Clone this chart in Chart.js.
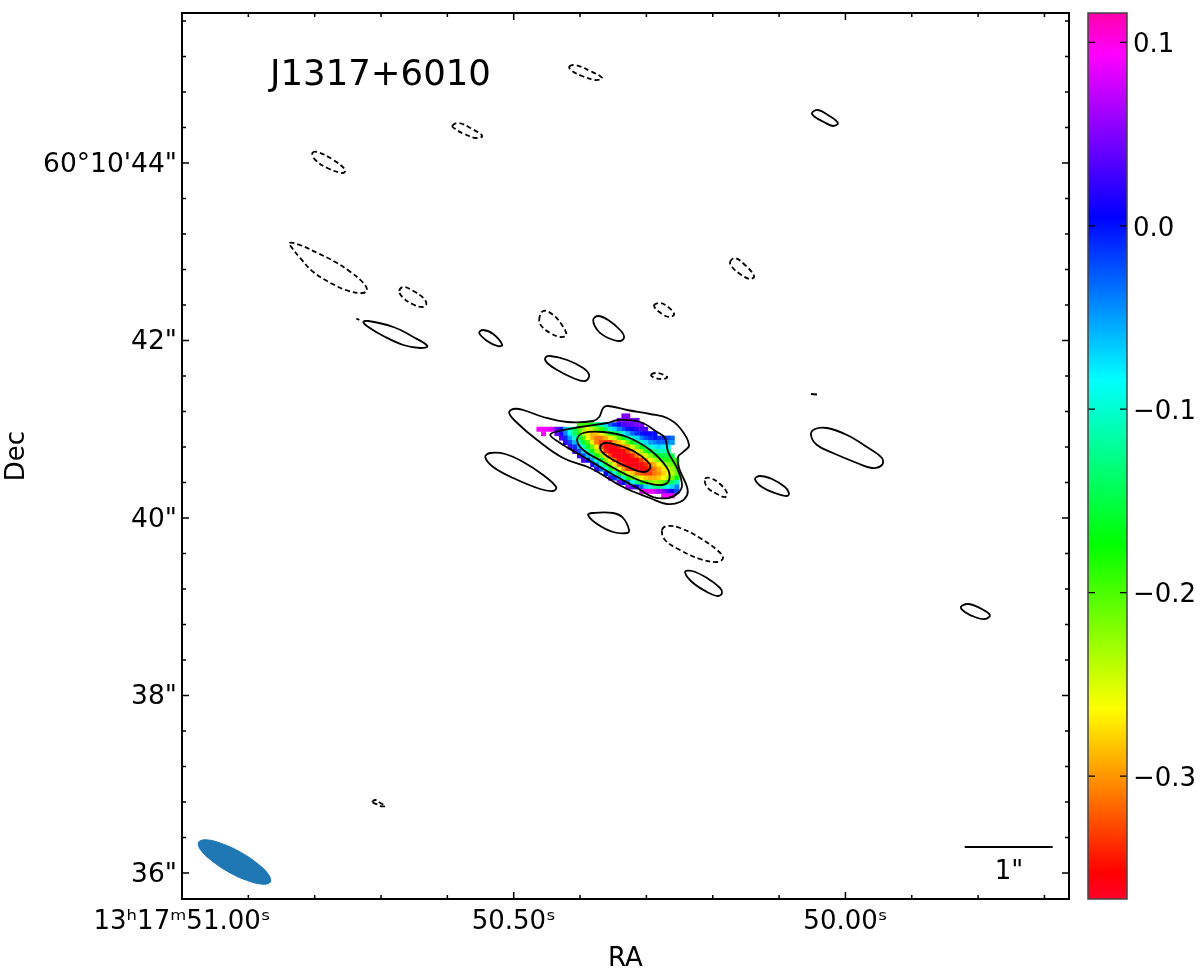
<!DOCTYPE html>
<html>
<head>
<meta charset="utf-8">
<title>J1317+6010</title>
<script src="https://cdn.jsdelivr.net/npm/chart.js@4/dist/chart.umd.min.js"></script>
<style>
  html, body { margin: 0; padding: 0; background: #fff; }
  #wrap { position: relative; width: 1200px; height: 973px; }
  canvas { position: absolute; top: 0; display: block; }
  #skyChart { left: 0; }
  #barChart { left: 1069px; }
</style>
</head>
<body>
<div id="wrap">
  <canvas id="skyChart" width="1200" height="973"></canvas>
  <canvas id="barChart" width="131" height="973"></canvas>
</div>
<script>
// axes, in seconds of RA and arcseconds of Dec
const raMin = 49.663, raMax = 51.0;
const decMin = 35.707, decMax = 45.69;
const raTicks = [51.0, 50.9, 50.8, 50.7, 50.6, 50.5, 50.4, 50.3, 50.2, 50.1, 50.0, 49.9, 49.8, 49.7];
const raTickLabels = ["13ʰ17ᵐ51.00ˢ", "", "", "", "", "50.50ˢ", "", "", "", "", "50.00ˢ", "", "", ""];
const decTicks = [36, 36.4, 36.8, 37.2, 37.6, 38, 38.4, 38.8, 39.2, 39.6, 40, 40.4, 40.8, 41.2, 41.6, 42, 42.4, 42.8, 43.2, 43.6, 44, 44.4, 44.8, 45.2, 45.6];
const decTickLabels = ['36"', "", "", "", "", '38"', "", "", "", "", '40"', "", "", "", "", '42"', "", "", "", "", "60°10'44\"", "", "", "", ""];

// colour bar
const barMin = -0.367, barMax = 0.116;
const barTicks = [-0.3, -0.2, -0.1, 0.0, 0.1];
const barTickLabels = ["\u22120.3", "\u22120.2", "\u22120.1", "0.0", "0.1"];
const cmapStops = [0, 0.03, 0.215, 0.4, 0.586, 0.77, 0.954, 1];
const cmapColors = [[255, 0, 41], [255, 0, 0], [255, 255, 0], [0, 255, 0], [0, 255, 255], [0, 0, 255], [255, 0, 255], [255, 0, 170]];

// spectral index map: cell centres and one row of values per Dec
const heatRa = [50.462, 50.455, 50.448, 50.442, 50.435, 50.428, 50.422, 50.415, 50.408, 50.401, 50.395, 50.388, 50.381, 50.375, 50.368, 50.361, 50.354, 50.348, 50.341, 50.334, 50.328, 50.321, 50.314, 50.307, 50.301, 50.294, 50.287, 50.281, 50.274, 50.267, 50.261, 50.254];
const heatDec = [41.15, 41.10, 41.05, 41.00, 40.95, 40.90, 40.85, 40.80, 40.75, 40.70, 40.65, 40.60, 40.55, 40.50, 40.45, 40.40, 40.35, 40.30, 40.25];
const heatStart = [19, 18, 9, 0, 1, 5, 6, 7, 8, 9, 10, 12, 13, 15, 16, 18, 20, 23, 28];
const heatValues = [
  [.05, .05],
  [.05, .05, .05, .05, .04],
  [-.2, -.2, -.19, -.18, -.13, -.1, -.07, -.03, -.01, .01, .03, .04, .04, .05, .05],
  [.09, .09, .09, .08, .04, 0, -.06, -.1, -.15, -.2, -.23, -.25, -.24, -.21, -.19, -.14, -.1, -.07, -.04, -.02, 0, .01, .02, .03, .03],
  [.09, null, null, .04, .01, -.04, -.09, -.14, -.19, -.24, -.27, -.29, -.28, -.26, -.23, -.19, -.15, -.12, -.09, -.06, -.03, -.01, 0, .01, .01, 0],
  [.03, -.01, -.05, -.1, -.15, -.2, -.26, -.29, -.31, -.31, -.29, -.27, -.24, -.2, -.17, -.13, -.1, -.07, -.04, -.02, -.01, 0, -.01, -.01, -.02, -.03],
  [.02, -.02, -.06, -.11, -.16, -.2, -.27, -.31, -.33, -.34, -.34, -.3, -.28, -.25, -.21, -.17, -.13, -.1, -.07, -.05, -.04, -.03, -.03, -.04, -.05],
  [.03, -.01, -.06, -.11, -.16, -.21, -.27, -.33, -.35, -.36, -.36, -.34, -.31, -.29, -.25, -.21, -.17, -.13, -.1, -.08, -.07, -.08, -.08],
  [.03, -.02, -.07, -.12, -.17, -.23, -.29, -.34, -.36, -.36, -.36, -.35, -.33, -.3, -.27, -.23, -.19, -.16, -.13, -.11, -.11, -.12],
  [.03, -.02, -.06, -.11, -.17, -.22, -.28, -.33, -.36, -.36, -.36, -.36, -.34, -.31, -.28, -.25, -.22, -.19, -.16, -.15, -.15, -.15],
  [.03, 0, -.05, -.1, -.16, -.22, -.27, -.32, -.35, -.36, -.36, -.36, -.35, -.33, -.3, -.27, -.24, -.22, -.19, -.19, -.19, -.18],
  [.02, -.04, -.1, -.16, -.22, -.27, -.32, -.34, -.36, -.36, -.36, -.35, -.34, -.31, -.29, -.26, -.24, -.22, -.21, -.19],
  [.02, -.03, -.09, -.15, -.21, -.26, -.3, -.33, -.34, -.36, -.36, -.35, -.33, -.31, -.29, -.27, -.25, -.23, -.21],
  [0, -.04, -.1, -.16, -.21, -.25, -.28, -.31, -.32, -.33, -.33, -.31, -.3, -.28, -.26, -.24, -.21],
  [.03, -.01, -.05, -.11, -.16, -.2, -.24, -.26, -.28, -.29, -.29, -.28, -.26, -.24, -.21, -.17],
  [.04, 0, -.04, -.09, -.13, -.17, -.2, -.22, -.23, -.22, -.21, -.18, -.14, -.11],
  [.06, .04, .01, -.03, -.07, -.1, -.12, -.13, -.11, -.09, -.07, -.04],
  [.09, .09, .09, .08, .06, .05, .03, .01, -.02],
  [.09, .09, .09]
];

// Stokes I contours as [RA, Dec], solid = positive levels
const solidLoops = [
  [[50.5068,41.183],[50.5008,41.2281],[50.4857,41.2168],[50.4556,41.1379],[50.4194,41.0816],[50.3803,41.0928],[50.3712,41.1379],[50.3652,41.2394],[50.3577,41.2619],[50.3291,41.2168],[50.2945,41.1717],[50.2688,41.1266],[50.2493,41.014],[50.2357,40.8225],[50.2447,40.7436],[50.2523,40.6871],[50.2508,40.5632],[50.2387,40.349],[50.2387,40.2589],[50.2493,40.18],[50.2688,40.1575],[50.2945,40.2251],[50.3351,40.349],[50.3848,40.5632],[50.4255,40.6759],[50.4647,40.8788],[50.4947,41.0703]],
  [[50.445,40.9351],[50.4375,40.9689],[50.3998,41.0253],[50.3591,41.0703],[50.3426,41.1041],[50.3095,41.0816],[50.2839,40.9689],[50.2719,40.9013],[50.2673,40.7436],[50.2538,40.5632],[50.2463,40.3716],[50.2523,40.2814],[50.2673,40.2251],[50.2899,40.2363],[50.314,40.3378],[50.3547,40.5067],[50.3998,40.7096],[50.43,40.845]],
  [[50.4044,40.8788],[50.3953,40.9577],[50.3652,40.9689],[50.3291,40.9126],[50.2945,40.7661],[50.2688,40.5632],[50.2658,40.428],[50.2764,40.3716],[50.299,40.3941],[50.3291,40.4844],[50.3652,40.6309],[50.3953,40.7661]],
  [[50.3697,40.8],[50.3622,40.845],[50.3441,40.8225],[50.317,40.7436],[50.2975,40.6309],[50.2945,40.5632],[50.305,40.5181],[50.3246,40.5632],[50.3502,40.6534],[50.3652,40.7323]],
  [[50.7267,42.2084],[50.7192,42.2197],[50.6815,42.1521],[50.6513,42.0394],[50.6302,41.938],[50.6408,41.9154],[50.6664,41.9492],[50.6965,42.0507],[50.7192,42.1521]],
  [[50.552,42.0845],[50.546,42.1183],[50.5309,42.0732],[50.5173,41.9492],[50.5249,41.938],[50.54,41.9944]],
  [[50.3802,42.231],[50.3727,42.2761],[50.3576,42.231],[50.3396,42.1183],[50.3336,42.0394],[50.3396,41.9944],[50.3576,42.0281],[50.3727,42.107]],
  [[50.4525,41.8027],[50.445,41.8253],[50.4194,41.7802],[50.3953,41.69],[50.3863,41.6112],[50.3923,41.5435],[50.4103,41.5773],[50.4344,41.6675],[50.4495,41.7464]],
  [[50.0504,44.5634],[50.0414,44.5972],[50.0263,44.5409],[50.0113,44.4507],[50.0188,44.4169],[50.0323,44.462],[50.0459,44.5183]],
  [[50.0519,41.3971],[50.0429,41.3914]],
  [[50.0519,40.9351],[50.0459,41.0027],[50.0278,41.014],[49.9977,40.9351],[49.9676,40.7999],[49.945,40.6759],[49.945,40.597],[49.96,40.5632],[49.9826,40.6196],[50.0188,40.7323],[50.0429,40.8225]],
  [[50.1363,40.4392],[50.1288,40.473],[50.1107,40.4392],[50.0911,40.349],[50.0851,40.2814],[50.0881,40.2476],[50.1062,40.2814],[50.1258,40.349]],
  [[50.3878,40.0337],[50.3818,40.0562],[50.3502,40.0562],[50.3351,39.9999],[50.3261,39.8647],[50.3291,39.8309],[50.3502,39.8422],[50.3742,39.9323]],
  [[50.2417,39.3914],[50.2312,39.4027],[50.2086,39.3238],[50.189,39.2111],[50.186,39.1548],[50.192,39.121],[50.2086,39.1661],[50.2312,39.2788]],
  [[49.826,38.997],[49.8155,39.0308],[49.7974,38.9857],[49.7823,38.9069],[49.7899,38.8618],[49.8049,38.8843],[49.82,38.9407]],
  [[50.5429,40.6871],[50.5354,40.7322],[50.5128,40.7211],[50.4857,40.6309],[50.4556,40.4844],[50.436,40.349],[50.4405,40.304],[50.4601,40.3265],[50.5008,40.4505],[50.5309,40.5745]]
];
// dashed = negative levels
const dashedLoops = [
  [[50.838,43.099],[50.822,43.076],[50.796,42.986],[50.769,42.885],[50.746,42.772],[50.728,42.659],[50.721,42.569],[50.728,42.535],[50.749,42.558],[50.776,42.648],[50.802,42.772],[50.822,42.93],[50.834,43.042]],
  [[50.6724,42.5577],[50.6664,42.6028],[50.6513,42.5577],[50.6362,42.4788],[50.6317,42.4112],[50.6377,42.3774],[50.6528,42.4112],[50.6679,42.4901]],
  [[50.7372,42.2479],[50.7327,42.231]],
  [[50.4616,42.231],[50.4555,42.3324],[50.4404,42.2873],[50.4254,42.1521],[50.4209,42.0619],[50.4299,42.0394],[50.445,42.0845],[50.457,42.1521]],
  [[50.2884,42.3887],[50.2794,42.4225],[50.2673,42.3774],[50.2583,42.2986],[50.2643,42.2648],[50.2764,42.2986]],
  [[50.2929,41.6112],[50.2839,41.6337],[50.2688,41.5886],[50.2749,41.5661],[50.2869,41.5773]],
  [[50.1739,42.8845],[50.1664,42.9296],[50.1514,42.8507],[50.1378,42.7267],[50.1438,42.6929],[50.1589,42.7493],[50.1709,42.8282]],
  [[50.4164,45.0817],[50.4074,45.1043],[50.3848,45.0367],[50.3667,44.9578],[50.3773,44.9353],[50.3968,44.9803],[50.4119,45.0367]],
  [[50.5926,44.4169],[50.5836,44.4507],[50.5625,44.3831],[50.5474,44.3042],[50.5565,44.2817],[50.5745,44.3268],[50.5881,44.3831]],
  [[50.8035,44.1127],[50.7959,44.124],[50.7718,44.0338],[50.7538,43.9211],[50.7583,43.8873],[50.7809,43.9437],[50.799,44.0338]],
  [[50.2116,40.4392],[50.2041,40.4505],[50.189,40.3829],[50.1785,40.2814],[50.1815,40.2363],[50.1935,40.2701],[50.2086,40.349]],
  [[50.2764,39.8647],[50.2688,39.9098],[50.2493,39.8873],[50.2191,39.7746],[50.1935,39.6394],[50.1845,39.5492],[50.1935,39.5041],[50.2191,39.5379],[50.2493,39.6394],[50.2719,39.752]],
  [[50.7131,36.7998],[50.7086,36.8223],[50.7011,36.7885],[50.6935,36.7547],[50.7011,36.7547],[50.7071,36.7773]]
];
// restoring beam and the 1" scale bar
const beamLoop = [[50.8669,35.8994],[50.8783,35.8735],[50.9012,35.9141],[50.9294,36.0098],[50.9551,36.1372],[50.972,36.2611],[50.975,36.3479],[50.9636,36.3738],[50.9407,36.3333],[50.9125,36.2375],[50.8868,36.1101],[50.8699,35.986]];
const scaleBar = [[49.8201,36.2924],[49.6876,36.2924]];

const FONT = '"DejaVu Sans", sans-serif';

function colorFor(v) {
  const t = (v - barMin) / (barMax - barMin);
  for (let i = 1; i < cmapStops.length; i++) {
    if (t <= cmapStops[i]) {
      const f = (t - cmapStops[i - 1]) / (cmapStops[i] - cmapStops[i - 1]);
      const a = cmapColors[i - 1], b = cmapColors[i];
      return `rgb(${a.map((c, k) => Math.round(c + (b[k] - c) * f)).join(",")})`;
    }
  }
  return `rgb(${cmapColors[cmapColors.length - 1].join(",")})`;
}

function toPoints(loop) {
  return loop.map(p => ({ x: p[0], y: p[1] }));
}

// wrap a loop by one point at each end so the spline tangents close smoothly,
// the two extra segments are not stroked
function wrapLoop(loop) {
  const n = loop.length;
  return toPoints([loop[n - 1], ...loop, loop[0], loop[1]]);
}

function hideWrapEnds(ctx) {
  const last = ctx.chart.data.datasets[ctx.datasetIndex].data.length - 2;
  if (ctx.p0DataIndex === 0 || ctx.p0DataIndex === last) return "rgba(0,0,0,0)";
  return undefined;
}

function contourSet(loop, dashed) {
  const closed = loop.length > 2;
  return {
    data: closed ? wrapLoop(loop) : toPoints(loop),
    showLine: true,
    tension: 0.4,
    borderColor: "#000",
    borderWidth: 1.8,
    borderDash: dashed ? [5, 3] : [],
    pointRadius: 0,
    segment: closed ? { borderColor: hideWrapEnds } : undefined,
    order: 1
  };
}

const heatPoints = [];
const heatColors = [];
heatValues.forEach((row, r) => {
  row.forEach((v, i) => {
    if (v === null) return;
    heatPoints.push({ x: heatRa[heatStart[r] + i], y: heatDec[r] });
    heatColors.push(colorFor(v));
  });
});

// inward ticks on all four sides, frame and the two free labels
const skyFrame = {
  id: "skyFrame",
  afterDraw(chart) {
    const { ctx, chartArea: a, scales } = chart;
    ctx.save();
    ctx.strokeStyle = "#000";
    ctx.lineWidth = 1.5;
    ctx.beginPath();
    raTicks.forEach((v, i) => {
      const x = scales.x.getPixelForValue(v);
      const len = raTickLabels[i] ? 7 : 4;
      if (x < a.left + 1) return;
      ctx.moveTo(x, a.bottom); ctx.lineTo(x, a.bottom - len);
      ctx.moveTo(x, a.top); ctx.lineTo(x, a.top + len);
    });
    decTicks.forEach((v, i) => {
      const y = scales.y.getPixelForValue(v);
      const len = decTickLabels[i] ? 7 : 4;
      ctx.moveTo(a.left, y); ctx.lineTo(a.left + len, y);
      ctx.moveTo(a.right, y); ctx.lineTo(a.right - len, y);
    });
    ctx.stroke();
    ctx.lineWidth = 2;
    ctx.strokeRect(a.left, a.top, a.right - a.left, a.bottom - a.top);
    ctx.fillStyle = "#000";
    ctx.textBaseline = "alphabetic";
    ctx.textAlign = "left";
    ctx.font = "35.5px " + FONT;
    ctx.fillText("J1317+6010", 270, 85);
    ctx.textAlign = "center";
    ctx.font = "26px " + FONT;
    ctx.fillText('1"', 1009, 879);
    ctx.restore();
  }
};

new Chart(document.getElementById("skyChart"), {
  type: "scatter",
  data: {
    datasets: [
      ...solidLoops.map(l => contourSet(l, false)),
      ...dashedLoops.map(l => contourSet(l, true)),
      { data: toPoints(scaleBar), showLine: true, borderColor: "#000", borderWidth: 2, pointRadius: 0, order: 1 },
      { data: wrapLoop(beamLoop), showLine: true, tension: 0.4, fill: "shape", backgroundColor: "#1f77b4", borderColor: "#1f77b4", borderWidth: 1, pointRadius: 0, segment: { borderColor: hideWrapEnds }, order: 2 },
      { data: heatPoints, pointStyle: "rect", pointRadius: 3.5, pointBorderWidth: 0, pointBackgroundColor: heatColors, showLine: false, order: 3 }
    ]
  },
  options: {
    responsive: false,
    animation: false,
    events: [],
    layout: { padding: { top: 13, right: 131, left: 0, bottom: 0 } },
    plugins: { legend: { display: false }, tooltip: { enabled: false } },
    scales: {
      x: {
        type: "linear",
        reverse: true,
        min: raMin,
        max: raMax,
        afterBuildTicks(scale) { scale.ticks = raTicks.map(value => ({ value })); },
        afterFit(scale) { scale.height = 74; },
        grid: { display: false, drawTicks: false },
        border: { display: false },
        ticks: {
          autoSkip: false,
          maxRotation: 0,
          padding: 8,
          color: "#000",
          font: { family: FONT, size: 26 },
          callback: (v, i) => raTickLabels[i]
        },
        title: { display: true, text: "RA", color: "#000", padding: { top: 0, bottom: -2 }, font: { family: FONT, size: 26 } }
      },
      y: {
        type: "linear",
        min: decMin,
        max: decMax,
        afterBuildTicks(scale) { scale.ticks = decTicks.map(value => ({ value })); },
        afterFit(scale) { scale.width = 182; scale.paddingTop = 0; scale.paddingBottom = 0; },
        grid: { display: false, drawTicks: false },
        border: { display: false },
        ticks: {
          autoSkip: false,
          padding: 5,
          labelOffset: 2,
          color: "#000",
          font: { family: FONT, size: 26.5 },
          callback: (v, i) => decTickLabels[i]
        },
        title: { display: true, text: "Dec", color: "#000", padding: { top: 2, bottom: 0 }, font: { family: FONT, size: 26 } }
      }
    }
  },
  plugins: [skyFrame]
});

const barFrame = {
  id: "barFrame",
  afterDraw(chart) {
    const { ctx, chartArea: a, scales } = chart;
    ctx.save();
    ctx.strokeStyle = "#000";
    ctx.lineWidth = 1.2;
    ctx.beginPath();
    barTicks.forEach(v => {
      const y = scales.y.getPixelForValue(v);
      ctx.moveTo(a.left, y); ctx.lineTo(a.left + 7, y);
      ctx.moveTo(a.right, y); ctx.lineTo(a.right - 7, y);
    });
    ctx.stroke();
    ctx.strokeStyle = "#444";
    ctx.lineWidth = 1.5;
    ctx.strokeRect(a.left, a.top, a.right - a.left, a.bottom - a.top);
    ctx.restore();
  }
};

new Chart(document.getElementById("barChart"), {
  type: "bar",
  data: {
    labels: ["index"],
    datasets: [{
      data: [[barMin, barMax]],
      barPercentage: 1,
      categoryPercentage: 1,
      borderWidth: 0,
      backgroundColor(context) {
        const { ctx, chartArea } = context.chart;
        if (!chartArea) return "#fff";
        const g = ctx.createLinearGradient(0, chartArea.bottom, 0, chartArea.top);
        cmapStops.forEach((s, i) => g.addColorStop(s, `rgb(${cmapColors[i].join(",")})`));
        return g;
      }
    }]
  },
  options: {
    responsive: false,
    animation: false,
    events: [],
    layout: { padding: { top: 13, bottom: 74, left: 19, right: 0 } },
    plugins: { legend: { display: false }, tooltip: { enabled: false } },
    scales: {
      x: { display: false },
      y: {
        position: "right",
        min: barMin,
        max: barMax,
        afterBuildTicks(scale) { scale.ticks = barTicks.map(value => ({ value })); },
        afterFit(scale) { scale.width = 73; scale.paddingTop = 0; scale.paddingBottom = 0; },
        grid: { display: false, drawTicks: false },
        border: { display: false },
        ticks: {
          autoSkip: false,
          padding: 6,
          labelOffset: 3,
          color: "#000",
          font: { family: FONT, size: 26 },
          callback: (v, i) => barTickLabels[i]
        }
      }
    }
  },
  plugins: [barFrame]
});
</script>
</body>
</html>
